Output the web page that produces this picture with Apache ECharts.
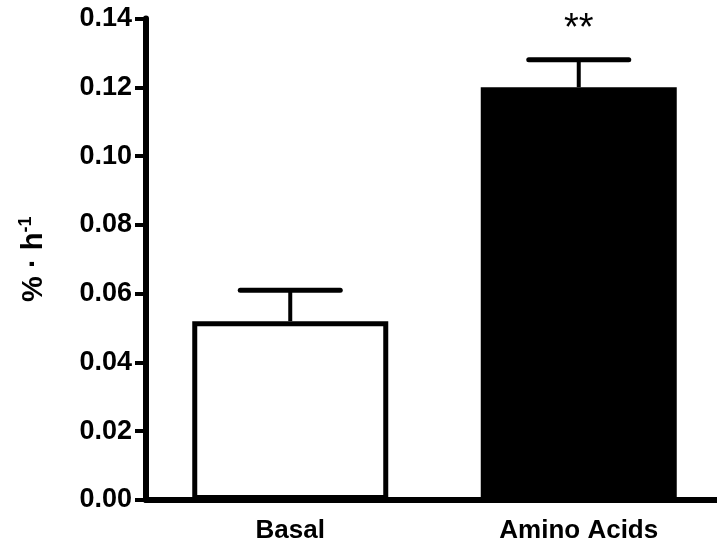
<!DOCTYPE html>
<html>
<head>
<meta charset="utf-8">
<script src="https://cdn.jsdelivr.net/npm/echarts@6/dist/echarts.min.js"></script>
<style>
html,body{margin:0;padding:0;background:#fff;overflow:hidden;width:717px;height:550px;}
#chart{width:723px;height:550px;}
</style>
</head>
<body>
<div id="chart"></div>
<script>
const categories = ['Basal', 'Amino Acids'];
const means = [0.052, 0.120];
const errors = [0.009, 0.008];
const significance = ['', '**'];
const yTicks = [0, 0.02, 0.04, 0.06, 0.08, 0.10, 0.12, 0.14];

const FONT = 'Arial, "Liberation Sans", sans-serif';
const chart = echarts.init(document.getElementById('chart'), null, {renderer: 'canvas'});

const barData = means.map((v, i) => ({
  value: v,
  itemStyle: i === 0
    ? {color: '#ffffff', borderColor: '#000000', borderWidth: 5}
    : {color: '#000000', borderColor: '#000000', borderWidth: 0}
}));

const errData = means.map((v, i) => [i, v, v + errors[i], significance[i]]);

chart.setOption({
  animation: false,
  backgroundColor: '#ffffff',
  grid: {left: 146, right: 0, top: 18.5, bottom: 50, containLabel: false},
  xAxis: {
    type: 'category',
    data: categories,
    axisLine: {show: true, lineStyle: {color: '#000', width: 6}},
    axisTick: {show: false},
    axisLabel: {color: '#000', fontFamily: FONT, fontWeight: 'bold', fontSize: 26, margin: 18}
  },
  yAxis: {
    type: 'value',
    min: yTicks[0],
    max: yTicks[yTicks.length - 1],
    interval: 0.02,
    splitLine: {show: false},
    axisLine: {show: true, lineStyle: {color: '#000', width: 6}},
    axisTick: {show: true, length: 11, lineStyle: {color: '#000', width: 4}},
    axisLabel: {
      color: '#000', fontFamily: FONT, fontWeight: 'bold', fontSize: 27, margin: 14,
      formatter: v => v.toFixed(2)
    },
    name: '% · h{sup|-1}',
    nameLocation: 'middle',
    nameRotate: 90,
    nameGap: 95,
    nameTextStyle: {
      color: '#000', fontFamily: FONT, fontWeight: 'bold', fontSize: 29,
      rich: {
        sup: {color: '#000', fontFamily: FONT, fontWeight: 'bold', fontSize: 18, padding: [0, 0, 16, 0]}
      }
    }
  },
  series: [
    {
      type: 'bar',
      data: barData,
      barWidth: 196,
      z: 2
    },
    {
      type: 'custom',
      z: 3,
      data: errData,
      renderItem: function (params, api) {
        const x = api.value(0);
        const base = api.coord([x, api.value(1)]);
        const top = api.coord([x, api.value(2)]);
        const half = 50;
        const children = [
          {type: 'line', shape: {x1: base[0], y1: base[1], x2: top[0], y2: top[1]},
           style: {stroke: '#000', lineWidth: 4}},
          {type: 'line', shape: {x1: top[0] - half, y1: top[1], x2: top[0] + half, y2: top[1]},
           style: {stroke: '#000', lineWidth: 5, lineCap: 'round'}}
        ];
        const sig = errData[params.dataIndex][3];
        if (sig) {
          children.push({type: 'text', style: {
            text: sig, x: top[0], y: top[1] - 30, align: 'center', verticalAlign: 'middle',
            fill: '#000', font: 'normal 38px ' + FONT
          }});
        }
        return {type: 'group', children: children};
      }
    }
  ]
});
</script>
</body>
</html>
